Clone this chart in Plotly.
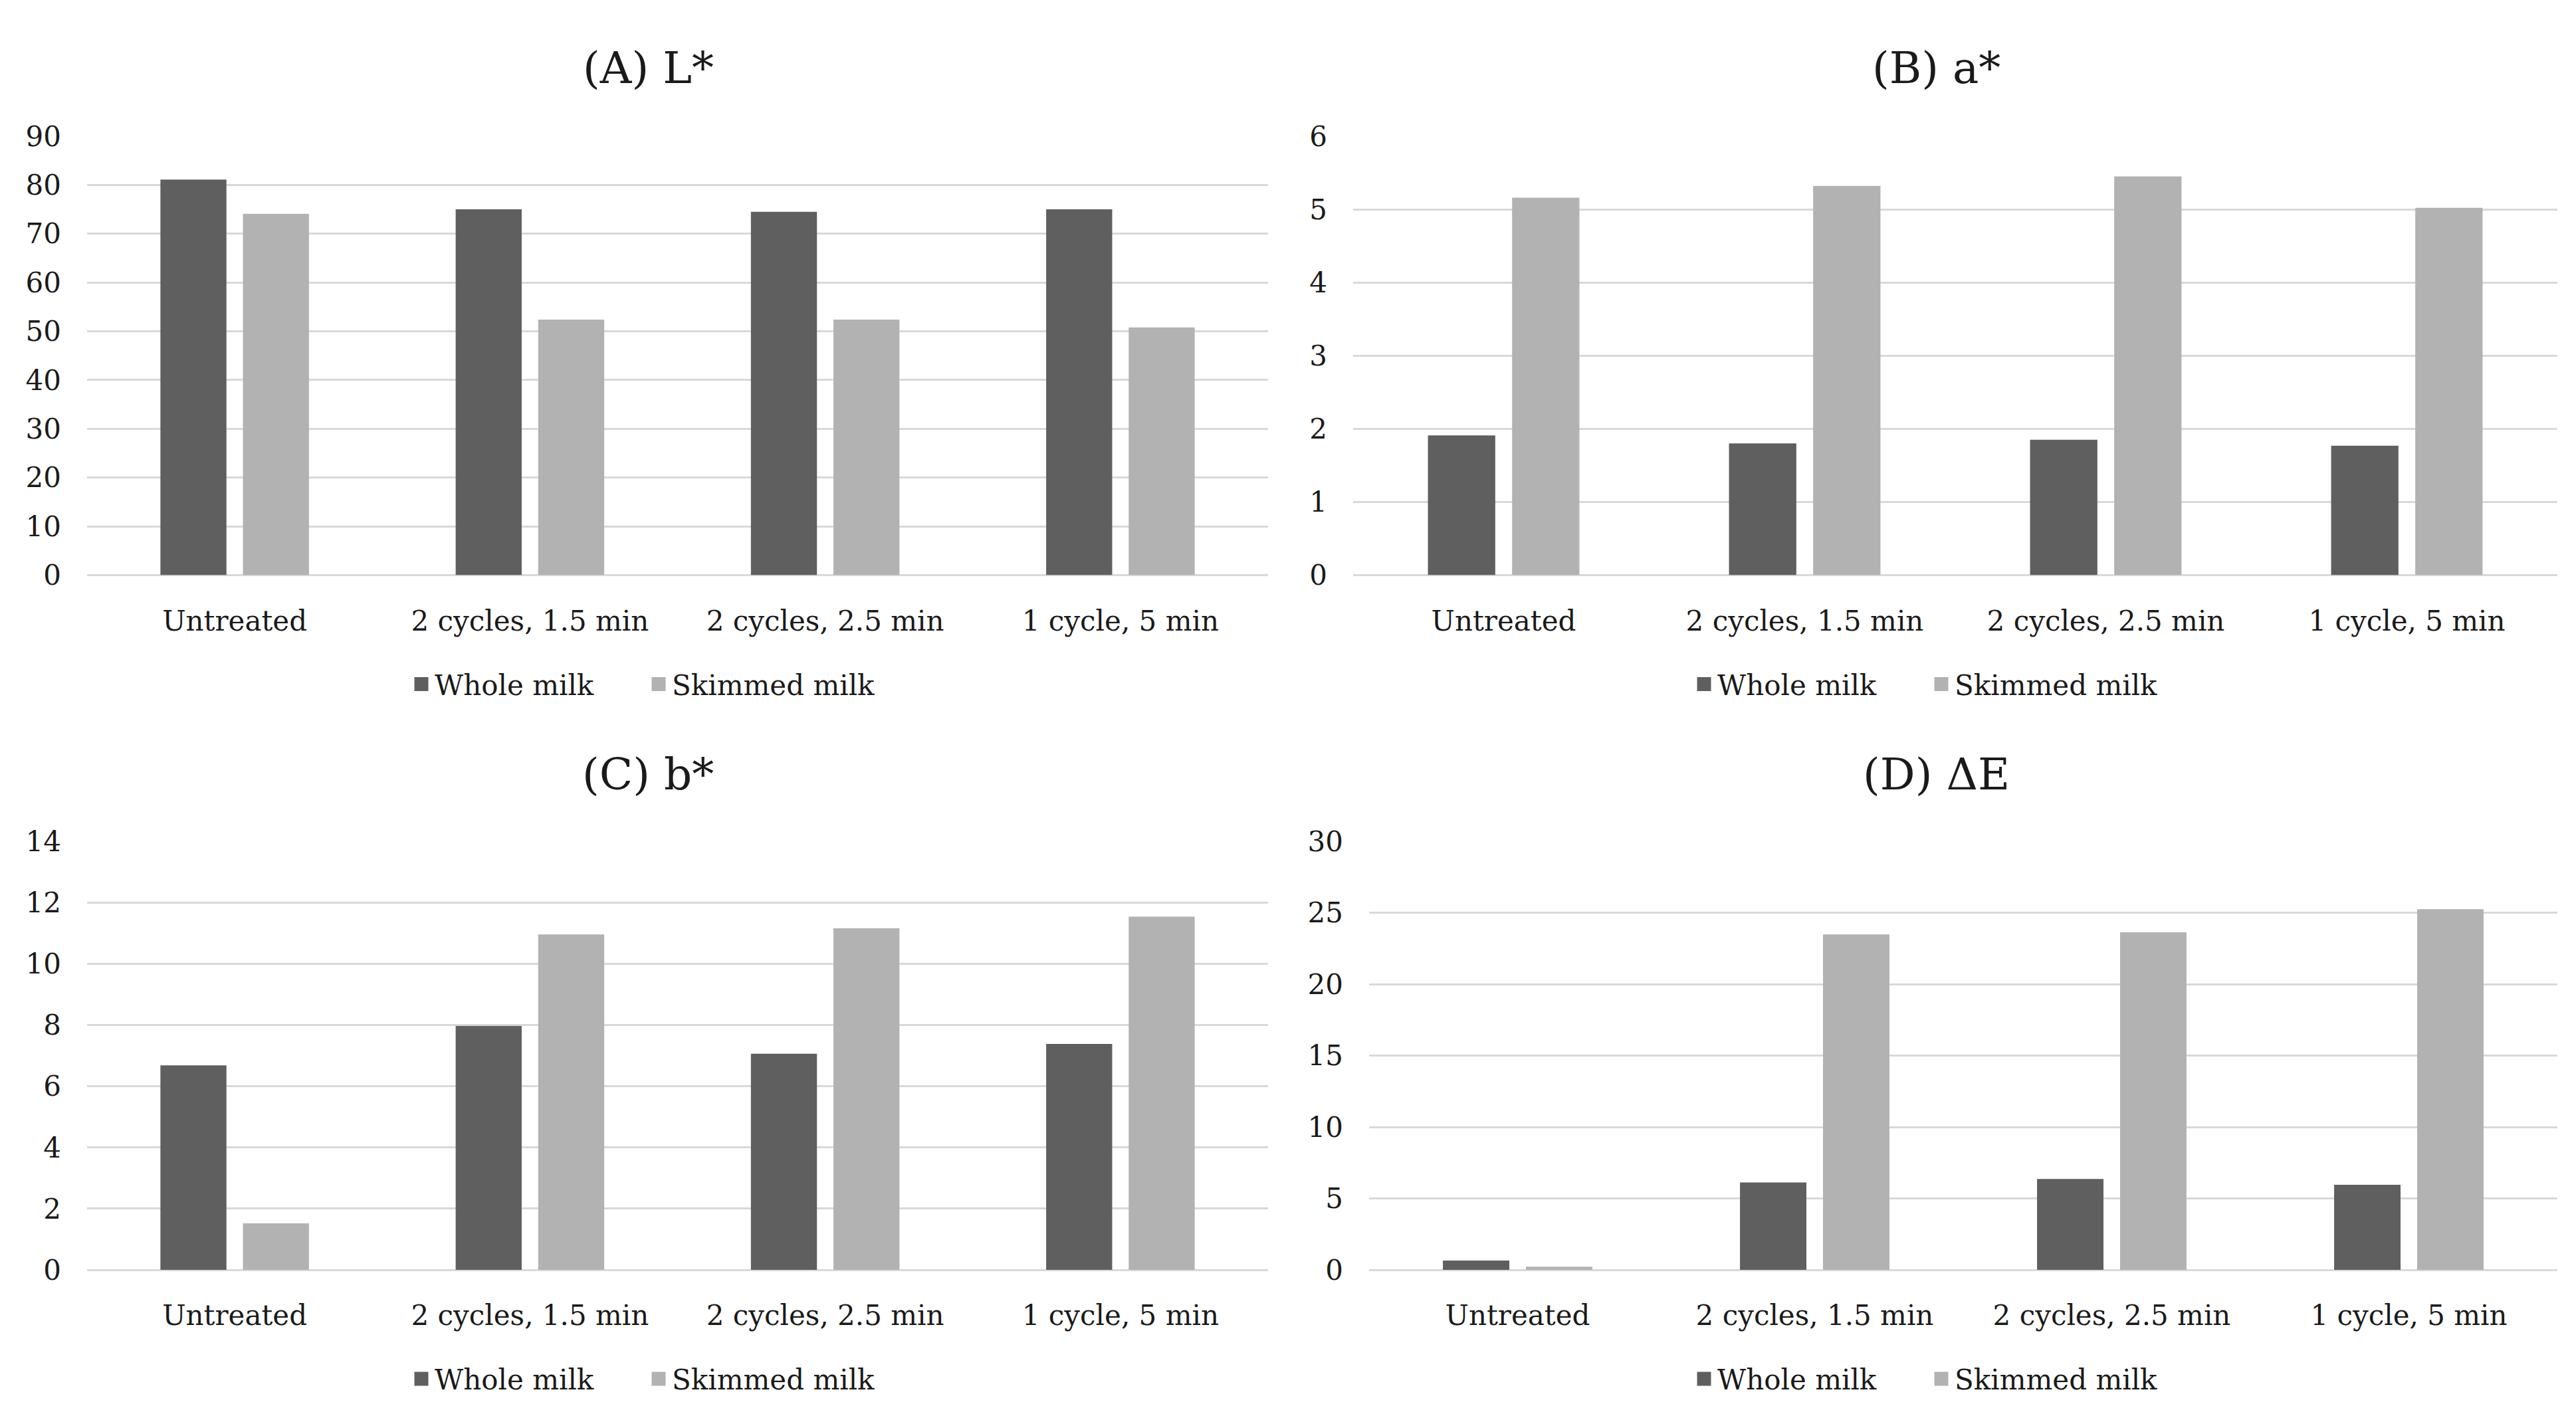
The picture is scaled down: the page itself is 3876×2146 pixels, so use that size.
import plotly.graph_objects as go

categories = ["Untreated", "2 cycles, 1.5 min", "2 cycles, 2.5 min", "1 cycle, 5 min"]
series_names = ["Whole milk", "Skimmed milk"]

L_whole = [81.1, 75.0, 74.5, 75.0]
L_skim = [74.1, 52.4, 52.4, 50.8]
a_whole = [1.91, 1.80, 1.85, 1.77]
a_skim = [5.16, 5.32, 5.45, 5.02]
b_whole = [6.68, 7.97, 7.06, 7.38]
b_skim = [1.52, 10.96, 11.16, 11.54]
dE_whole = [0.65, 6.12, 6.37, 5.96]
dE_skim = [0.22, 23.48, 23.63, 25.25]

titles = ["(A) L*", "(B) a*", "(C) b*", "(D) \u0394E"]
y_max = [90, 6, 14, 30]
y_step = [10, 1, 2, 5]

colors = ["#5f5f5f", "#b2b2b2"]
FONT = "DejaVu Serif"
TXT = "#1a1a1a"
W, H = 3876, 2146

panels = [
    (L_whole, L_skim),
    (a_whole, a_skim),
    (b_whole, b_skim),
    (dE_whole, dE_skim),
]

# domains in pixels (left, right, top, bottom)
px_dom = [
    (123, 1900, 177, 853),
    (2028, 3840, 177, 853),
    (123, 1900, 1263, 1923),
    (2052, 3840, 1263, 1923),
]
title_pos = [(967, 72), (2905, 72), (967, 1160), (2905, 1160)]
legend_pos = [(963, 1021), (2893, 1021), (963, 2091), (2893, 2091)]

fig = go.Figure()
layout = dict(
    width=W, height=H,
    margin=dict(l=0, r=0, t=0, b=0),
    paper_bgcolor="white", plot_bgcolor="white",
    barmode="group", bargap=0.441, bargroupgap=0.2,
    font=dict(family=FONT, size=42, color=TXT),
    annotations=[],
)

for i, (whole, skim) in enumerate(panels):
    n = "" if i == 0 else str(i + 1)
    xa, ya = "x" + n, "y" + n
    leg = "legend" + n
    for vals, name, col in zip((whole, skim), series_names, colors):
        fig.add_trace(go.Bar(x=categories, y=vals, name=name, marker_color=col,
                             marker_line_width=0, xaxis=xa, yaxis=ya,
                             showlegend=False))
    for name, col in zip(series_names, colors):
        fig.add_trace(go.Scatter(x=[None], y=[None], mode="markers", name=name,
                                 marker=dict(symbol="square", size=16, color=col,
                                             line=dict(color=col, width=5)),
                                 xaxis=xa, yaxis=ya, legend=leg, showlegend=True))
    l, r, t, b = px_dom[i]
    layout["xaxis" + n] = dict(
        domain=[l / W, r / W], anchor=ya, type="category",
        showgrid=False, showline=False, zeroline=False, ticks="",
        ticklabelstandoff=40, tickfont=dict(size=42, family=FONT, color=TXT),
    )
    layout["yaxis" + n] = dict(
        domain=[1 - b / H, 1 - t / H], anchor=xa,
        range=[0, y_max[i]], dtick=y_step[i], tick0=0,
        showgrid=True, gridcolor="#d9d9d9", gridwidth=3,
        zeroline=True, zerolinecolor="#d9d9d9", zerolinewidth=3,
        showline=False, ticks="", ticklabelstandoff=38,
        tickfont=dict(size=42, family=FONT, color=TXT),
    )
    tx, ty = title_pos[i]
    layout["annotations"].append(dict(
        text=titles[i], x=tx / W, y=1 - ty / H, xref="paper", yref="paper",
        xanchor="center", yanchor="middle", showarrow=False,
        font=dict(size=66, family=FONT, color=TXT),
    ))
    lx, ly = legend_pos[i]
    layout[leg] = dict(
        orientation="h", x=lx / W, y=1 - ly / H, xanchor="center", yanchor="middle",
        xref="paper", yref="paper",
        font=dict(size=42, family=FONT, color=TXT),
        bgcolor="rgba(0,0,0,0)", entrywidth=312, entrywidthmode="pixels",
        itemclick=False,
    )

fig.update_layout(**layout)
fig.write_html("out.html")
